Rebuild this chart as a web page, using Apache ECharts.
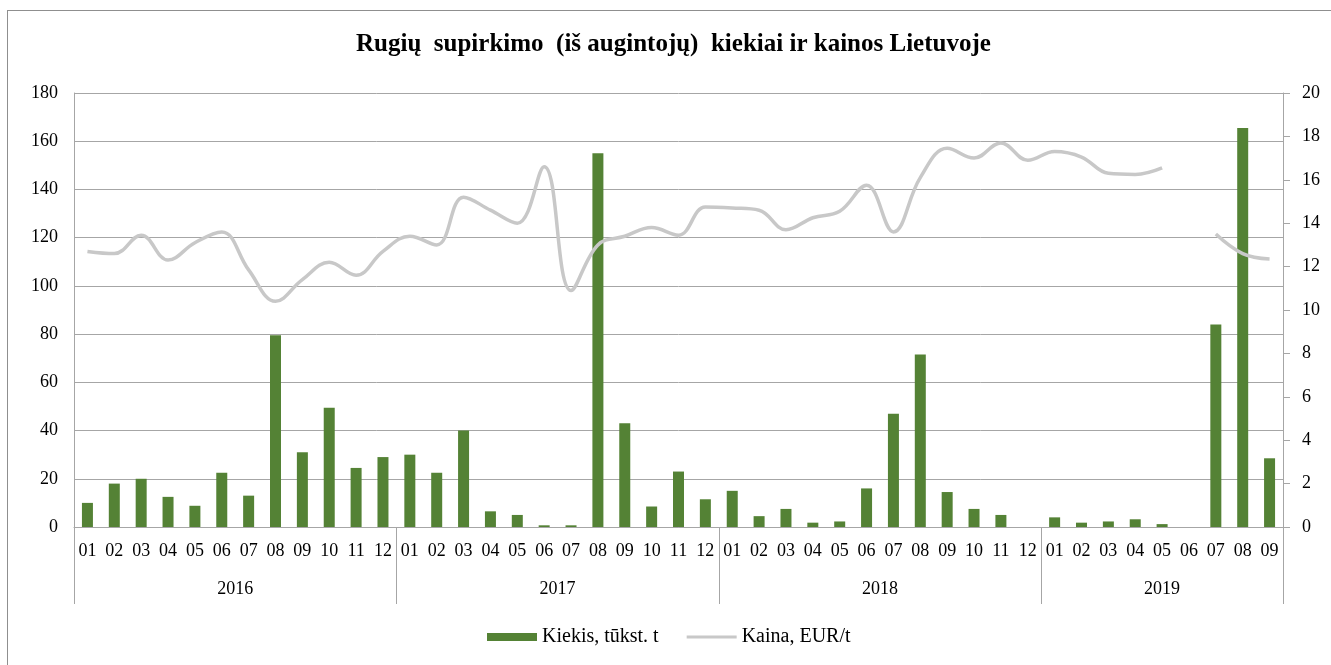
<!DOCTYPE html>
<html>
<head>
<meta charset="utf-8">
<title>Rugių supirkimas</title>
<script src="https://cdn.jsdelivr.net/npm/echarts@6/dist/echarts.min.js"></script>
<style>
  html, body { margin: 0; padding: 0; background: #fff; overflow: hidden; }
  .frame { position: absolute; left: 7px; top: 10px; width: 1400px; height: 700px; border: 1px solid #8f8f8f; }
  #main { position: absolute; left: 0; top: 0; width: 1331px; height: 665px; }
</style>
</head>
<body>
<div class="frame"></div>
<div id="main"></div>
<script>
// mėnesiai (2016-01 ... 2019-09)
var months = [
  '01','02','03','04','05','06','07','08','09','10','11','12',
  '01','02','03','04','05','06','07','08','09','10','11','12',
  '01','02','03','04','05','06','07','08','09','10','11','12',
  '01','02','03','04','05','06','07','08','09'
];
var years = ['2016', '2017', '2018', '2019'];
var monthsInYear = [12, 12, 12, 9];

// Kiekis, tūkst. t
var kiekis = [
  10, 18, 20, 12.5, 8.8, 22.5, 13, 79.5, 31, 49.5, 24.5, 29,
  30, 22.5, 40, 6.5, 5, 0.7, 0.7, 155, 43, 8.5, 23, 11.5,
  15, 4.5, 7.5, 1.8, 2.3, 16, 47, 71.5, 14.5, 7.5, 5, null,
  4, 1.8, 2.3, 3.2, 1.2, null, 84, 165.5, 28.5
];

// Kaina, EUR/t
var kaina = [
  12.7, 12.6, 13.45, 12.3, 13.1, 13.6, 11.85, 10.4, 11.4, 12.2, 11.6, 12.7,
  13.4, 13.0, 15.2, 14.6, 14.0, 16.6, 10.9, 13.0, 13.4, 13.8, 13.45, 14.75,
  14.7, 14.6, 13.7, 14.25, 14.55, 15.75, 13.6, 16.1, 17.45, 17.0, 17.7, 16.9,
  17.3, 17.05, 16.3, 16.25, 16.55, null, 13.5, 12.6, 12.35
];

// pusmėnesių skalė metų skirtukams ir metų etiketėms
var halfSlots = [];
var sepIdx = [0];
var yearIdx = [];
var pos = 0;
for (var k = 0; k < years.length; k++) {
  yearIdx.push(pos + monthsInYear[k]);
  pos += monthsInYear[k] * 2;
  sepIdx.push(pos);
}
for (var s = 0; s <= pos; s++) {
  var yi = yearIdx.indexOf(s);
  halfSlots.push(yi >= 0 ? years[yi] : '');
}

var axisGray = '#a6a6a6';
var serif = 'Liberation Serif';

var myChart = echarts.init(document.getElementById('main'));
var option = {
  animation: false,
  title: {
    text: 'Rugių  supirkimo  (iš augintojų)  kiekiai ir kainos Lietuvoje',
    left: 356,
    top: 32,
    padding: 0,
    textStyle: { fontFamily: serif, fontWeight: 'bold', fontSize: 25, color: '#000' }
  },
  legend: {
    left: 487,
    top: 627,
    padding: 0,
    itemWidth: 50,
    itemHeight: 8,
    itemGap: 28,
    symbolKeepAspect: true,
    textStyle: { fontFamily: serif, fontSize: 20, color: '#000' },
    data: [
      { name: 'Kiekis, tūkst. t', icon: 'rect' },
      { name: 'Kaina, EUR/t', icon: 'path://M0,0 L50,0 L50,3 L0,3 Z' }
    ]
  },
  grid: { left: 74, right: 48, top: 93, bottom: 138 },
  xAxis: [
    {
      type: 'category',
      data: months,
      boundaryGap: true,
      axisLine: { lineStyle: { color: axisGray } },
      axisTick: { show: false },
      axisLabel: { interval: 0, margin: 15, fontFamily: serif, fontSize: 18, color: '#000' }
    },
    {
      type: 'category',
      data: halfSlots,
      boundaryGap: false,
      position: 'bottom',
      axisLine: { show: false },
      axisTick: {
        show: true,
        length: 77,
        interval: function (i) { return sepIdx.indexOf(i) >= 0; },
        lineStyle: { color: axisGray }
      },
      axisLabel: {
        interval: function (i) { return yearIdx.indexOf(i) >= 0; },
        margin: 53,
        fontFamily: serif, fontSize: 18, color: '#000'
      }
    }
  ],
  yAxis: [
    {
      type: 'value',
      min: 0, max: 180, interval: 20,
      axisLine: { show: true, lineStyle: { color: axisGray } },
      axisTick: { show: false },
      splitLine: { lineStyle: { color: axisGray } },
      axisLabel: { margin: 16, fontFamily: serif, fontSize: 18, color: '#000' }
    },
    {
      type: 'value',
      min: 0, max: 20, interval: 2,
      position: 'right',
      axisLine: { show: true, lineStyle: { color: axisGray } },
      axisTick: { show: true, length: 7, lineStyle: { color: axisGray } },
      splitLine: { show: false },
      axisLabel: { margin: 19, fontFamily: serif, fontSize: 18, color: '#000' }
    }
  ],
  series: [
    {
      name: 'Kiekis, tūkst. t',
      type: 'bar',
      xAxisIndex: 0,
      yAxisIndex: 0,
      barWidth: 11,
      itemStyle: { color: '#548235' },
      data: kiekis
    },
    {
      name: 'Kaina, EUR/t',
      type: 'line',
      xAxisIndex: 0,
      yAxisIndex: 1,
      smooth: 0.4,
      symbol: 'none',
      connectNulls: false,
      lineStyle: { color: '#c8c8c8', width: 3.5 },
      itemStyle: { color: '#c8c8c8' },
      data: kaina
    }
  ]
};
myChart.setOption(option, true);
window.onresize = myChart.resize;
</script>
</body>
</html>
